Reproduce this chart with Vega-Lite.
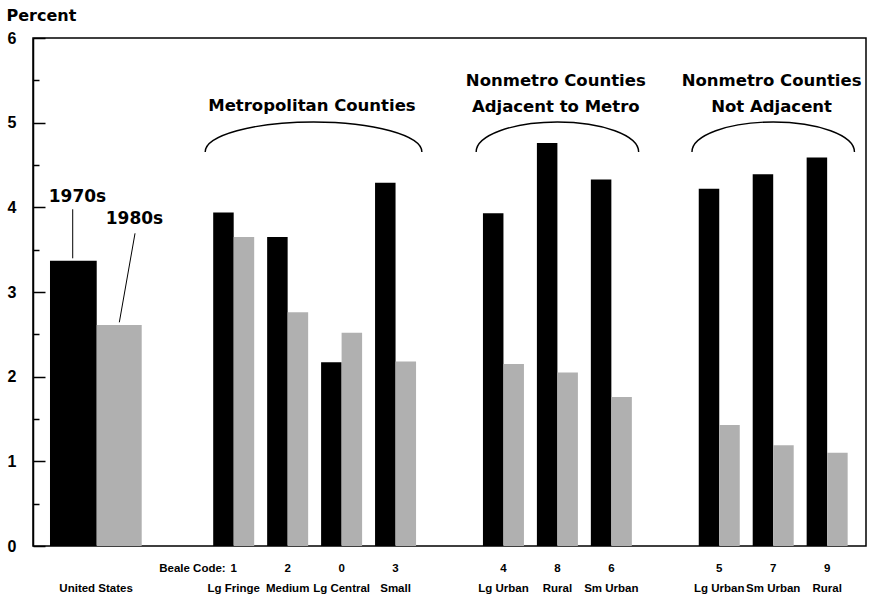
{
  "$schema": "https://vega.github.io/schema/vega-lite/v6.json",
  "width": 833,
  "height": 508,
  "autosize": {"type": "none"},
  "padding": {"left": 33, "top": 38, "right": 8, "bottom": 56},
  "background": "white",
  "config": {
    "view": {"stroke": "black", "strokeWidth": 1.5},
    "text": {"color": "black"}
  },
  "data": {
    "values": [
      {"group": "United States", "code": "", "name": "United States", "decade": "1970s", "percent": 3.37},
      {"group": "United States", "code": "", "name": "United States", "decade": "1980s", "percent": 2.61},
      {"group": "Metropolitan Counties", "code": "1", "name": "Lg Fringe", "decade": "1970s", "percent": 3.94},
      {"group": "Metropolitan Counties", "code": "1", "name": "Lg Fringe", "decade": "1980s", "percent": 3.65},
      {"group": "Metropolitan Counties", "code": "2", "name": "Medium", "decade": "1970s", "percent": 3.65},
      {"group": "Metropolitan Counties", "code": "2", "name": "Medium", "decade": "1980s", "percent": 2.76},
      {"group": "Metropolitan Counties", "code": "0", "name": "Lg Central", "decade": "1970s", "percent": 2.17},
      {"group": "Metropolitan Counties", "code": "0", "name": "Lg Central", "decade": "1980s", "percent": 2.52},
      {"group": "Metropolitan Counties", "code": "3", "name": "Small", "decade": "1970s", "percent": 4.29},
      {"group": "Metropolitan Counties", "code": "3", "name": "Small", "decade": "1980s", "percent": 2.18},
      {"group": "Nonmetro Counties Adjacent to Metro", "code": "4", "name": "Lg Urban", "decade": "1970s", "percent": 3.93},
      {"group": "Nonmetro Counties Adjacent to Metro", "code": "4", "name": "Lg Urban", "decade": "1980s", "percent": 2.15},
      {"group": "Nonmetro Counties Adjacent to Metro", "code": "8", "name": "Rural", "decade": "1970s", "percent": 4.76},
      {"group": "Nonmetro Counties Adjacent to Metro", "code": "8", "name": "Rural", "decade": "1980s", "percent": 2.05},
      {"group": "Nonmetro Counties Adjacent to Metro", "code": "6", "name": "Sm Urban", "decade": "1970s", "percent": 4.33},
      {"group": "Nonmetro Counties Adjacent to Metro", "code": "6", "name": "Sm Urban", "decade": "1980s", "percent": 1.76},
      {"group": "Nonmetro Counties Not Adjacent", "code": "5", "name": "Lg Urban", "decade": "1970s", "percent": 4.22},
      {"group": "Nonmetro Counties Not Adjacent", "code": "5", "name": "Lg Urban", "decade": "1980s", "percent": 1.43},
      {"group": "Nonmetro Counties Not Adjacent", "code": "7", "name": "Sm Urban", "decade": "1970s", "percent": 4.39},
      {"group": "Nonmetro Counties Not Adjacent", "code": "7", "name": "Sm Urban", "decade": "1980s", "percent": 1.19},
      {"group": "Nonmetro Counties Not Adjacent", "code": "9", "name": "Rural", "decade": "1970s", "percent": 4.59},
      {"group": "Nonmetro Counties Not Adjacent", "code": "9", "name": "Rural", "decade": "1980s", "percent": 1.10}
    ]
  },
  "resolve": {"scale": {"x": "independent"}, "axis": {"x": "independent"}},
  "layer": [
    {
      "layer": [
        {
          "transform": [{"filter": "datum.group !== 'United States'"}],
          "mark": {"type": "bar"},
          "encoding": {
            "x": {"field": "code", "type": "nominal", "axis": null,
                  "scale": {"domain": ["", " ", "  ", "1", "2", "0", "3", "   ", "4", "8", "6", "    ", "5", "7", "9"], "paddingInner": 0.24, "paddingOuter": 0.34}},
            "xOffset": {"field": "decade", "type": "nominal", "scale": {"domain": ["1970s", "1980s"], "paddingInner": 0, "paddingOuter": 0}},
            "y": {"field": "percent", "type": "quantitative",
                  "scale": {"domain": [0, 6], "nice": false, "zero": true},
                  "axis": {
                    "orient": "left",
                    "title": "Percent", "titleAngle": 0, "titleAlign": "left", "titleBaseline": "alphabetic",
                    "titleX": -27, "titleY": -18, "titleFont": "DejaVu Sans", "titleFontSize": 16, "titleFontWeight": "bold", "titleColor": "black",
                    "values": [0, 0.5, 1, 1.5, 2, 2.5, 3, 3.5, 4, 4.5, 5, 5.5, 6],
                    "labelExpr": "datum.value % 1 === 0 ? '' + datum.value : ''",
                    "labelFont": "Liberation Sans", "labelFontSize": 16, "labelFontWeight": "bold", "labelColor": "black",
                    "labelOverlap": false, "labelFlush": false, "labelPadding": 29,
                    "tickSize": {"condition": {"test": "datum.value % 1 === 0", "value": -12}, "value": -6},
                    "tickColor": "black", "tickWidth": 1.5,
                    "domainColor": "black", "domainWidth": 1.5, "grid": false
                  }},
            "color": {"field": "decade", "type": "nominal", "scale": {"domain": ["1970s", "1980s"], "range": ["#000000", "#b0b0b0"]}, "legend": null}
          }
        },
        {
          "transform": [{"filter": "datum.group !== 'United States' && datum.decade === '1970s'"}],
          "mark": {"type": "text", "font": "Liberation Sans", "fontSize": 11.5, "fontWeight": "bold", "baseline": "middle", "dy": 23},
          "encoding": {
            "x": {"field": "code", "type": "nominal", "axis": null},
            "y": {"value": "height"},
            "text": {"field": "code"}
          }
        },
        {
          "transform": [{"filter": "datum.group !== 'United States' && datum.decade === '1970s'"}],
          "mark": {"type": "text", "font": "Liberation Sans", "fontSize": 11.5, "fontWeight": "bold", "baseline": "middle", "dy": 43},
          "encoding": {
            "x": {"field": "code", "type": "nominal", "axis": null},
            "y": {"value": "height"},
            "text": {"field": "name"}
          }
        },
        {
          "data": {"values": [{}]},
          "mark": {"type": "text", "font": "Liberation Sans", "fontSize": 11.5, "fontWeight": "bold", "baseline": "middle", "align": "right", "dy": 23, "dx": -8},
          "encoding": {
            "x": {"datum": "1", "type": "nominal", "axis": null},
            "y": {"value": "height"},
            "text": {"value": "Beale Code:"}
          }
        }
      ]
    },
    {
      "layer": [
        {
          "transform": [{"filter": "datum.group === 'United States' && datum.decade === '1970s'"}],
          "mark": {"type": "bar"},
          "encoding": {
            "x": {"datum": -0.405, "type": "quantitative", "scale": {"domain": [-0.72, 14.72], "nice": false, "zero": false}, "axis": null},
            "x2": {"datum": 0.461},
            "y": {"field": "percent", "type": "quantitative"},
            "y2": {"datum": 0},
            "color": {"field": "decade", "type": "nominal", "legend": null}
          }
        },
        {
          "transform": [{"filter": "datum.group === 'United States' && datum.decade === '1980s'"}],
          "mark": {"type": "bar"},
          "encoding": {
            "x": {"datum": 0.461, "type": "quantitative", "scale": {"domain": [-0.72, 14.72], "nice": false, "zero": false}, "axis": null},
            "x2": {"datum": 1.295},
            "y": {"field": "percent", "type": "quantitative"},
            "y2": {"datum": 0},
            "color": {"field": "decade", "type": "nominal", "legend": null}
          }
        },
        {
          "transform": [{"filter": "datum.group === 'United States' && datum.decade === '1970s'"}],
          "mark": {"type": "text", "font": "Liberation Sans", "fontSize": 11.5, "fontWeight": "bold", "baseline": "middle", "dy": 43},
          "encoding": {
            "x": {"datum": 0.45, "type": "quantitative", "scale": {"domain": [-0.72, 14.72], "nice": false, "zero": false}, "axis": null},
            "y": {"value": "height"},
            "text": {"field": "name"}
          }
        },
        {
          "data": {"values": [{}]},
          "mark": {"type": "point", "shape": "M -1 0.1385 C -1 -0.0145 -0.5523 -0.1385 0 -0.1385 C 0.5523 -0.1385 1 -0.0145 1 0.1385", "size": 46959, "filled": false, "stroke": "black", "strokeWidth": 1.4, "opacity": 1},
          "encoding": {
            "x": {"datum": 4.48, "type": "quantitative", "scale": {"domain": [-0.72, 14.72], "nice": false, "zero": false}, "axis": null},
            "y": {"datum": 4.831, "type": "quantitative"}
          }
        },
        {
          "data": {"values": [{}]},
          "mark": {"type": "point", "shape": "M -1 0.1846 C -1 -0.0193 -0.5523 -0.1846 0 -0.1846 C 0.5523 -0.1846 1 -0.0193 1 0.1846", "size": 26406, "filled": false, "stroke": "black", "strokeWidth": 1.4, "opacity": 1},
          "encoding": {
            "x": {"datum": 9.0, "type": "quantitative", "scale": {"domain": [-0.72, 14.72], "nice": false, "zero": false}, "axis": null},
            "y": {"datum": 4.831, "type": "quantitative"}
          }
        },
        {
          "data": {"values": [{}]},
          "mark": {"type": "point", "shape": "M -1 0.1846 C -1 -0.0193 -0.5523 -0.1846 0 -0.1846 C 0.5523 -0.1846 1 -0.0193 1 0.1846", "size": 26406, "filled": false, "stroke": "black", "strokeWidth": 1.4, "opacity": 1},
          "encoding": {
            "x": {"datum": 13.0, "type": "quantitative", "scale": {"domain": [-0.72, 14.72], "nice": false, "zero": false}, "axis": null},
            "y": {"datum": 4.831, "type": "quantitative"}
          }
        },
        {
          "data": {"values": [{}]},
          "mark": {"type": "text", "font": "DejaVu Sans", "fontSize": 16.5, "fontWeight": "bold", "baseline": "middle", "align": "center"},
          "encoding": {
            "x": {"datum": 4.45, "type": "quantitative", "scale": {"domain": [-0.72, 14.72], "nice": false, "zero": false}, "axis": null},
            "y": {"datum": 5.195, "type": "quantitative"},
            "text": {"value": "Metropolitan Counties"}
          }
        },
        {
          "data": {"values": [{}]},
          "mark": {"type": "text", "font": "DejaVu Sans", "fontSize": 16.5, "fontWeight": "bold", "baseline": "middle", "align": "center", "lineHeight": 26},
          "encoding": {
            "x": {"datum": 8.97, "type": "quantitative", "scale": {"domain": [-0.72, 14.72], "nice": false, "zero": false}, "axis": null},
            "y": {"datum": 5.49, "type": "quantitative"},
            "text": {"value": ["Nonmetro Counties", "Adjacent to Metro"]}
          }
        },
        {
          "data": {"values": [{}]},
          "mark": {"type": "text", "font": "DejaVu Sans", "fontSize": 16.5, "fontWeight": "bold", "baseline": "middle", "align": "center", "lineHeight": 26},
          "encoding": {
            "x": {"datum": 12.97, "type": "quantitative", "scale": {"domain": [-0.72, 14.72], "nice": false, "zero": false}, "axis": null},
            "y": {"datum": 5.49, "type": "quantitative"},
            "text": {"value": ["Nonmetro Counties", "Not Adjacent"]}
          }
        },
        {
          "data": {"values": [{}]},
          "mark": {"type": "text", "font": "DejaVu Sans", "fontSize": 17, "fontWeight": "bold", "baseline": "middle", "align": "center"},
          "encoding": {
            "x": {"datum": 0.105, "type": "quantitative", "scale": {"domain": [-0.72, 14.72], "nice": false, "zero": false}, "axis": null},
            "y": {"datum": 4.118, "type": "quantitative"},
            "text": {"value": "1970s"}
          }
        },
        {
          "data": {"values": [{}]},
          "mark": {"type": "text", "font": "DejaVu Sans", "fontSize": 17, "fontWeight": "bold", "baseline": "middle", "align": "center"},
          "encoding": {
            "x": {"datum": 1.161, "type": "quantitative", "scale": {"domain": [-0.72, 14.72], "nice": false, "zero": false}, "axis": null},
            "y": {"datum": 3.858, "type": "quantitative"},
            "text": {"value": "1980s"}
          }
        },
        {
          "data": {"values": [{}]},
          "mark": {"type": "rule", "color": "black", "strokeWidth": 1},
          "encoding": {
            "x": {"datum": 0.016, "type": "quantitative", "scale": {"domain": [-0.72, 14.72], "nice": false, "zero": false}, "axis": null},
            "x2": {"datum": 0.016},
            "y": {"datum": 3.977, "type": "quantitative"},
            "y2": {"datum": 3.398}
          }
        },
        {
          "data": {"values": [{}]},
          "mark": {"type": "rule", "color": "black", "strokeWidth": 1},
          "encoding": {
            "x": {"datum": 1.171, "type": "quantitative", "scale": {"domain": [-0.72, 14.72], "nice": false, "zero": false}, "axis": null},
            "x2": {"datum": 0.88},
            "y": {"datum": 3.693, "type": "quantitative"},
            "y2": {"datum": 2.642}
          }
        }
      ]
    }
  ]
}
